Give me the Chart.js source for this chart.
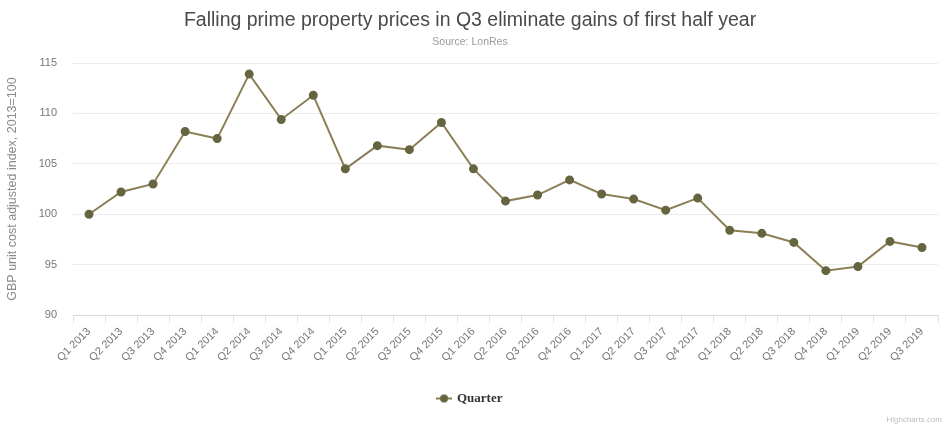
<!DOCTYPE html>
<html>
<head>
<meta charset="utf-8">
<title>Prime property prices</title>
<script src="https://cdn.jsdelivr.net/npm/chart.js@4/dist/chart.umd.min.js"></script>
<style>
  html, body { margin: 0; padding: 0; background: #ffffff; }
  #wrap { position: relative; width: 945px; height: 425px; }
</style>
</head>
<body>
<div id="wrap"><canvas id="chart" width="945" height="425"></canvas></div>
<script>
// Quarterly index values (2013 = 100)
const quarters = [
  'Q1 2013', 'Q2 2013', 'Q3 2013', 'Q4 2013',
  'Q1 2014', 'Q2 2014', 'Q3 2014', 'Q4 2014',
  'Q1 2015', 'Q2 2015', 'Q3 2015', 'Q4 2015',
  'Q1 2016', 'Q2 2016', 'Q3 2016', 'Q4 2016',
  'Q1 2017', 'Q2 2017', 'Q3 2017', 'Q4 2017',
  'Q1 2018', 'Q2 2018', 'Q3 2018', 'Q4 2018',
  'Q1 2019', 'Q2 2019', 'Q3 2019'
];
const indexValues = [
  100.0, 102.2, 103.0, 108.2,
  107.5, 113.9, 109.4, 111.8,
  104.5, 106.8, 106.4, 109.1,
  104.5, 101.3, 101.9, 103.4,
  102.0, 101.5, 100.4, 101.6,
  98.4, 98.1, 97.2, 94.4,
  94.8, 97.3, 96.7
];
const yTicks = [90, 95, 100, 105, 110, 115];

const seriesName = 'Quarter';
const lineColor = '#8c7f57';
const markerColor = '#66653f';

// Legend symbol: short line with a dot in the middle
function legendSymbol() {
  const c = document.createElement('canvas');
  c.width = 16; c.height = 10;
  const g = c.getContext('2d');
  g.strokeStyle = lineColor;
  g.lineWidth = 2;
  g.beginPath(); g.moveTo(0, 5); g.lineTo(16, 5); g.stroke();
  g.fillStyle = markerColor;
  g.beginPath(); g.arc(8, 5, 4, 0, Math.PI * 2); g.fill();
  return c;
}

// Small credit text in the bottom-right corner
const creditPlugin = {
  id: 'credit',
  afterDraw(chart) {
    const ctx = chart.ctx;
    ctx.save();
    ctx.font = '8px "Liberation Sans", Arial, sans-serif';
    ctx.fillStyle = '#bdbdbd';
    ctx.textAlign = 'right';
    ctx.textBaseline = 'bottom';
    ctx.fillText('Highcharts.com', chart.width - 3, chart.height - 1);
    ctx.restore();
  }
};

new Chart(document.getElementById('chart'), {
  type: 'line',
  data: {
    labels: quarters,
    datasets: [{
      label: seriesName,
      data: indexValues,
      borderColor: lineColor,
      backgroundColor: markerColor,
      pointBackgroundColor: markerColor,
      pointBorderColor: markerColor,
      borderWidth: 2,
      pointRadius: 3.5,
      pointHoverRadius: 5,
      tension: 0,
      fill: false
    }]
  },
  plugins: [creditPlugin],
  options: {
    responsive: false,
    animation: false,
    devicePixelRatio: 1,
    layout: { padding: { left: 0, right: 5, top: 0, bottom: 10 } },
    plugins: {
      title: {
        display: true,
        text: 'Falling prime property prices in Q3 eliminate gains of first half year',
        color: '#4a4a4a',
        font: { family: '"Liberation Sans", Arial, sans-serif', size: 19.5, weight: 'normal' },
        padding: { top: 9, bottom: 3 }
      },
      subtitle: {
        display: true,
        text: 'Source: LonRes',
        color: '#9a9a9a',
        font: { family: '"Liberation Sans", Arial, sans-serif', size: 10.5 },
        padding: { top: 0, bottom: 15 }
      },
      legend: {
        position: 'bottom',
        labels: {
          color: '#333333',
          font: { family: '"Liberation Serif", "Times New Roman", serif', size: 13, weight: 'bold' },
          usePointStyle: true,
          padding: 10,
          generateLabels(chart) {
            const items = Chart.defaults.plugins.legend.labels.generateLabels(chart);
            items.forEach(it => { it.pointStyle = legendSymbol(); });
            return items;
          }
        }
      },
      tooltip: { enabled: true }
    },
    scales: {
      x: {
        offset: true,
        afterFit(scale) { scale.height = 67; },
        grid: {
          offset: true,
          drawOnChartArea: false,
          drawTicks: true,
          tickLength: 8,
          color: '#e3e3e3'
        },
        border: { display: true, color: '#dcdcdc', width: 1 },
        ticks: {
          color: '#777777',
          font: { family: '"Liberation Sans", Arial, sans-serif', size: 11 },
          minRotation: 45,
          maxRotation: 45,
          autoSkip: false,
          padding: 2
        }
      },
      y: {
        min: 90,
        max: 115,
        afterFit(scale) { scale.width = 73; },
        afterBuildTicks(scale) { scale.ticks = yTicks.map(v => ({ value: v })); },
        grid: { color: '#ececec', drawTicks: false, lineWidth: 1 },
        border: { display: false },
        ticks: {
          color: '#777777',
          font: { family: '"Liberation Sans", Arial, sans-serif', size: 11 },
          padding: 16
        },
        title: {
          display: true,
          text: 'GBP unit cost adjusted index, 2013=100',
          color: '#8a8a8a',
          font: { family: '"Liberation Sans", Arial, sans-serif', size: 12.5 },
          padding: { top: 5, bottom: 4 }
        }
      }
    }
  }
});
</script>
</body>
</html>
